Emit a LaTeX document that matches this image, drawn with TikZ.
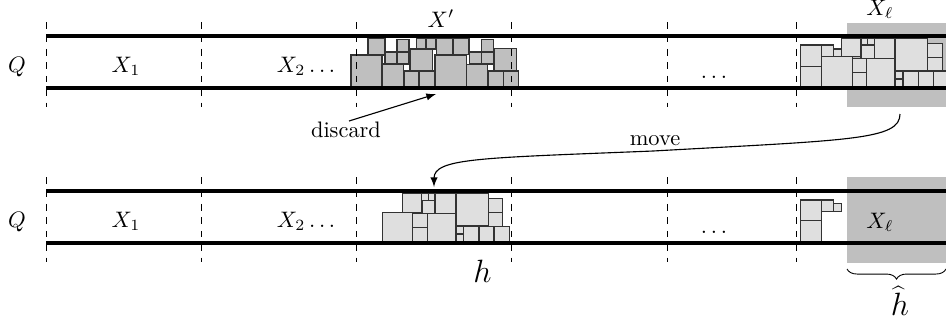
\documentclass[tikz,border=0pt]{standalone}
\usetikzlibrary{decorations.pathreplacing,arrows}
\tikzset{
  strip/.style={line width=1.4pt},
  sep/.style={dashed, line width=0.4pt},
  boxdark/.style={fill=gray!50, draw=black!80, line width=0.6pt},
  boxlight/.style={fill=gray!25, draw=black!80, line width=0.6pt},
  region/.style={fill=gray!50, draw=none},
  lbl/.style={anchor=base, inner sep=0pt},
  conn/.style={-latex, line width=0.5pt},
  brc/.style={decorate, decoration={brace, mirror, amplitude=4.5pt}, line width=0.4pt}
}
\begin{document}
\begin{tikzpicture}[x={(0.4464pt,0)}, y={(0,-0.4464pt)}]
\useasboundingbox (0,0) rectangle (946,325);
% grey regions of X_ell
\fill[region] (847,23) rectangle (946,107);
\fill[region] (847,177) rectangle (946,263);
% top row: X' boxes
\foreach \a/\b/\c/\d in {351/55/382/87, 368/38.5/385/55, 382/64/403.5/87, 385/52/397/64,
  397/52/409/64, 397/39.5/409/52, 410/49/432.3/71, 404/71/419/87, 419/71/434.3/87,
  416.3/38.5/426/49, 426/38.5/436/49, 436.5/38.5/453/54.5, 453/38.5/469/54.5,
  435/55/466.7/87, 466.7/64.3/487.7/87, 469.5/52/481.3/64, 481.3/52/493.5/64,
  481.3/39.5/493.5/52, 494/48.5/516.3/71, 488.3/71/503.3/87, 503.3/71/518.3/87}
  \draw[boxdark] (\a,\b) rectangle (\c,\d);
% top row: X_ell boxes
\foreach \a/\b/\c/\d in {800.7/45/821.7/66.7, 800.7/66.7/821.7/87, 821.7/45/833.5/56.7,
  833.5/49/841.7/56.7, 821.7/56.7/852.5/87, 841.7/38.5/861/56.7, 861/38.5/867.5/45,
  867.5/38.5/874.3/45, 861/45/874.3/58.3, 852.5/58.3/866.7/72.3, 852.5/72.3/866.7/87,
  866.7/58.3/895/87, 874.3/38.5/895/58.3, 895/38.5/927.7/71, 895/71/903/79,
  895/79/903/87, 903/71/918.3/87, 918.3/71/933.5/87, 933.5/71/948/87,
  927.7/43.3/942.5/57.5, 927.7/57.5/942.5/71}
  \draw[boxlight] (\a,\b) rectangle (\c,\d);
% bottom row: moved boxes
\foreach \a/\b/\c/\d in {382.3/212.3/412.3/242, 402.3/193.5/421.7/212.3, 421.7/193.5/428.3/200.7,
  428.3/193.5/435/200.7, 422.3/200.7/435/214, 435/193.5/456/213.3, 412.3/213.3/427.3/227.3,
  412.3/227.3/427.3/242, 427.3/213.3/456/242, 456/193.5/488.3/226, 456/226/463.3/234,
  456/234/463.3/242, 463.3/226.7/479/242, 479/226.7/494/242, 494/226.7/509.3/242,
  488.3/198.3/502.3/212.7, 488.3/212.7/502.3/226.7}
  \draw[boxlight] (\a,\b) rectangle (\c,\d);
% bottom row: remaining boxes
\foreach \a/\b/\c/\d in {800.7/200/821.7/220.7, 800.7/220.7/821.7/242,
  821.7/200/833.5/211.7, 833.5/203.3/841.7/211.7}
  \draw[boxlight] (\a,\b) rectangle (\c,\d);
% strips
\draw[strip] (46,36) -- (946,36);
\draw[strip] (46,88) -- (946,88);
\draw[strip] (46,191) -- (946,191);
\draw[strip] (46,243) -- (946,243);
% separators
\foreach \x in {46,201,356,511,667,796} {
  \draw[sep] (\x,22) -- (\x,107);
  \draw[sep] (\x,177) -- (\x,262);
}
% labels
\node[lbl] (q1) at (17,72) {$Q$};
\node[lbl] (q2) at (17,227) {$Q$};
\node[lbl] (xa1) at (126,72) {$X_1$};
\node[lbl] (xa2) at (126,227) {$X_1$};
\node[lbl] (xb1) at (306,72) {$X_2\dots$};
\node[lbl] (xb2) at (306,227) {$X_2\dots$};
\node[lbl] (d1) at (714,78) {$\dots$};
\node[lbl] (d2) at (714,233) {$\dots$};
\node[lbl] (xp) at (441,27) {$X'$};
\node[lbl] (xl1) at (880,15) {$X_\ell$};
\node[lbl] (xl2) at (880,228) {$X_\ell$};
\node[lbl] (disc) at (346,137) {discard};
\node[lbl] (mv) at (655,145) {move};
\node[lbl] (hl) at (482.5,282) {\Large $h$};
\node[lbl] (hh) at (900,315) {\Large $\widehat{h}$};
% connectors
\coordinate (dstart) at (349,121);
\coordinate (dend) at (436,94);
\draw[conn] (dstart) -- (dend);
\coordinate (mstart) at (900,114);
\coordinate (mmid) at (653,151);
\coordinate (mend) at (434,187);
\draw[conn] (mstart) .. controls (900,140) and (850,140) .. (mmid)
  .. controls (480,158) and (434,158) .. (mend);
% brace
\coordinate (bl) at (847,269);
\coordinate (br) at (946,269);
\draw[brc] (bl) -- (br);
\end{tikzpicture}
\end{document}
